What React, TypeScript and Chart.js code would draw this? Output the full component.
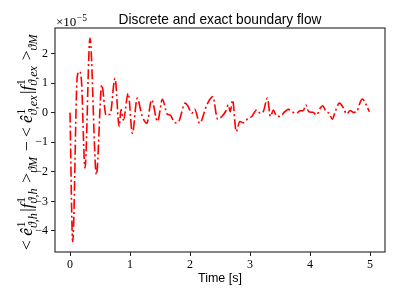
import React, { useEffect, useRef } from 'react';
import { Chart, registerables } from 'chart.js';

Chart.register(...registerables);

// time [s]
const TIME = [
  0.0, 0.045, 0.12, 0.155, 0.19, 0.25, 0.333, 0.44, 0.53, 0.6, 0.67, 0.75, 0.82, 0.85, 0.89,
  0.97, 1.04, 1.12, 1.2, 1.28, 1.36, 1.46, 1.54, 1.62, 1.67, 1.75, 1.81, 1.92, 1.97, 2.03,
  2.08, 2.16, 2.28, 2.38, 2.46, 2.53, 2.59, 2.64, 2.67, 2.71, 2.77, 2.83, 2.89, 2.97, 3.03,
  3.11, 3.17, 3.22, 3.29, 3.34, 3.39, 3.44, 3.5, 3.58, 3.64, 3.7, 3.78, 3.83, 3.89, 3.93,
  3.98, 4.05, 4.11, 4.17, 4.21, 4.27, 4.32, 4.37, 4.42, 4.49, 4.56, 4.61, 4.67, 4.72, 4.78,
  4.82, 4.87, 4.93, 4.99,
];
// flow difference, in units of 1e-5
const FLOW = [
  0.0, -4.36, 1.2, 1.39, 1.1, -1.87, 2.51, -2.1, 0.94, -0.08, -0.05, 1.16, -0.47, 0.1, -0.25,
  0.65, -0.7, 0.49, -0.1, -0.36, 0.43, -0.3, 0.45, -0.05, -0.08, -0.34, -0.3, 0.32, 0.2, -0.02,
  0.11, -0.36, 0.26, 0.54, -0.22, -0.13, 0.03, 0.26, 0.03, 0.43, -0.64, -0.3, -0.34, -0.19, -0.13,
  0.09, -0.02, 0.03, 0.49, -0.13, 0.09, -0.11, -0.13, 0.03, 0.11, 0.03, -0.02, 0.06, 0.07, 0.26,
  0.03, 0.01, -0.08, 0.15, 0.23, 0.03, -0.02, -0.22, 0.03, 0.32, 0.15, -0.05, 0.07, 0.01, 0.03,
  0.26, 0.46, 0.29, 0.03,
];
const X_TICKS = [0, 1, 2, 3, 4, 5];
const Y_TICKS = [-4, -3, -2, -1, 0, 1, 2];
const TITLE = 'Discrete and exact boundary flow';
const X_LABEL = 'Time [s]';
const OFFSET_BASE = '×10';
const OFFSET_EXP = '−5';

type Run = { t: string; it?: boolean; sup?: string; sub?: string };
const Y_LABEL: Run[] = [
  { t: '< ' },
  { t: 'ê', it: true, sup: '1', sub: 'ϑ,h' },
  { t: '|' },
  { t: 'f', it: true, sup: '1', sub: 'ϑ,h' },
  { t: ' >', sub: 'ϑM' },
  { t: ' − ' },
  { t: '< ' },
  { t: 'ê', it: true, sup: '1', sub: 'ϑ,ex' },
  { t: '|' },
  { t: 'f', it: true, sup: '1', sub: 'ϑ,ex' },
  { t: ' >', sub: 'ϑM' },
];

const SERIF = '"Liberation Serif", "DejaVu Serif", serif';
const SANS = '"Liberation Sans", "DejaVu Sans", sans-serif';

function runs(ctx: CanvasRenderingContext2D, list: Run[], S: number, draw: boolean): number {
  let x = 0;
  const s = S * 0.7;
  for (const r of list) {
    ctx.font = `${r.it ? 'italic ' : ''}${S}px ${SERIF}`;
    const w = ctx.measureText(r.t).width;
    if (draw) ctx.fillText(r.t, x, 0);
    x += w;
    let ws = 0;
    if (r.sup) {
      ctx.font = `${s}px ${SERIF}`;
      ws = Math.max(ws, ctx.measureText(r.sup).width);
      if (draw) ctx.fillText(r.sup, x + 0.5, -0.42 * S);
    }
    if (r.sub) {
      ctx.font = `italic ${s}px ${SERIF}`;
      ws = Math.max(ws, ctx.measureText(r.sub).width);
      if (draw) ctx.fillText(r.sub, x, 0.28 * S);
    }
    if (ws) x += ws + 0.08 * S;
  }
  return x;
}

function fitFont(ctx: CanvasRenderingContext2D, text: string, family: string, target: number) {
  ctx.font = `100px ${family}`;
  const w = ctx.measureText(text).width;
  return (100 * target) / w;
}

const decorPlugin = {
  id: 'decor',
  afterDraw(chart: any) {
    const ctx: CanvasRenderingContext2D = chart.ctx;
    const { left, right, top, bottom } = chart.chartArea;
    const cx = (left + right) / 2;
    ctx.save();
    // frame
    ctx.strokeStyle = '#222';
    ctx.lineWidth = 1.1;
    ctx.strokeRect(left, top, right - left, bottom - top);
    ctx.fillStyle = '#000';
    // title
    const ts = fitFont(ctx, TITLE, SANS, 203);
    ctx.font = `${ts}px ${SANS}`;
    ctx.textAlign = 'center';
    ctx.textBaseline = 'alphabetic';
    ctx.fillText(TITLE, cx, 24);
    // x label
    const xs = fitFont(ctx, X_LABEL, SANS, 44);
    ctx.font = `${xs}px ${SANS}`;
    ctx.fillText(X_LABEL, cx, 282);
    // offset text
    ctx.textAlign = 'left';
    ctx.font = `13px ${SERIF}`;
    ctx.fillText(OFFSET_BASE, left + 1, 26);
    const wb = ctx.measureText(OFFSET_BASE).width;
    ctx.font = `9.5px ${SERIF}`;
    ctx.fillText(OFFSET_EXP, left + 1 + wb + 0.5, 20.5);
    // y label
    const base = 10;
    const total = runs(ctx, Y_LABEL, base, false);
    const S = (base * 217) / total;
    const tw = runs(ctx, Y_LABEL, S, false);
    ctx.translate(32, 141.5);
    ctx.rotate(-Math.PI / 2);
    ctx.translate(-tw / 2, 0);
    runs(ctx, Y_LABEL, S, true);
    ctx.restore();
  },
};

function fmt(v: number) {
  return v < 0 ? '−' + Math.abs(v) : String(v);
}

export default function App() {
  const ref = useRef<HTMLCanvasElement | null>(null);
  useEffect(() => {
    document.body.style.margin = '0';
    const canvas = ref.current!;
    const points = TIME.map((t, i) => ({ x: t, y: FLOW[i] }));
    const chart = new Chart(canvas, {
      type: 'line',
      data: {
        datasets: [
          {
            data: points,
            borderColor: '#ff0000',
            borderWidth: 1.6,
            borderDash: [10, 3, 2, 3],
            pointRadius: 0,
            cubicInterpolationMode: 'monotone',
            fill: false,
          },
        ],
      },
      options: {
        animation: false,
        responsive: false,
        devicePixelRatio: 1,
        layout: { padding: { left: 0, right: 14, top: 28, bottom: 0 } },
        plugins: { legend: { display: false }, title: { display: false }, tooltip: { enabled: false } },
        scales: {
          x: {
            type: 'linear',
            min: -0.25,
            max: 5.25,
            afterFit: (s: any) => {
              s.height = 47;
            },
            afterBuildTicks: (s: any) => {
              s.ticks = X_TICKS.map((v) => ({ value: v }));
            },
            grid: { drawOnChartArea: false, drawTicks: true, tickLength: 4, color: '#222', lineWidth: 1 },
            border: { display: false },
            ticks: {
              padding: 2,
              color: '#000',
              font: { family: SERIF, size: 12 },
              maxRotation: 0,
              autoSkip: false,
              callback: (v: any) => fmt(Number(v)),
            },
          },
          y: {
            type: 'linear',
            min: -4.71,
            max: 2.86,
            afterFit: (s: any) => {
              s.width = 55;
            },
            afterBuildTicks: (s: any) => {
              s.ticks = Y_TICKS.map((v) => ({ value: v }));
            },
            grid: { drawOnChartArea: false, drawTicks: true, tickLength: 4, color: '#222', lineWidth: 1 },
            border: { display: false },
            ticks: {
              padding: 3,
              color: '#000',
              font: { family: SERIF, size: 12 },
              autoSkip: false,
              callback: (v: any) => fmt(Number(v)),
            },
          },
        },
      },
      plugins: [decorPlugin],
    } as any);
    return () => chart.destroy();
  }, []);
  return <canvas ref={ref} width={399} height={299} style={{ display: 'block', width: 399, height: 299 }} />;
}
